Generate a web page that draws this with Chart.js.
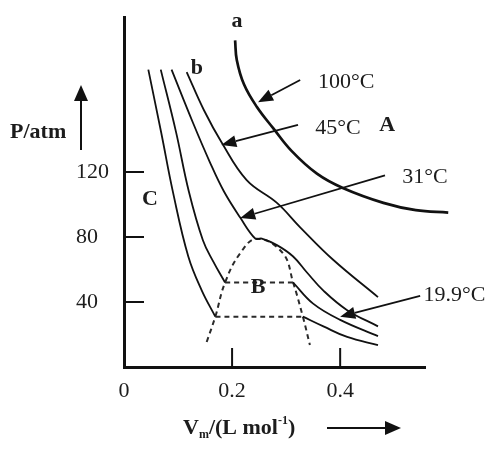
<!DOCTYPE html>
<html>
<head>
<meta charset="utf-8">
<title>CO2 isotherms</title>
<script src="https://cdn.jsdelivr.net/npm/chart.js@4/dist/chart.umd.min.js"></script>
<style>
  html, body { margin: 0; padding: 0; background: #fff; }
  #wrap { width: 490px; height: 449px; }
</style>
</head>
<body>
<div id="wrap"><canvas id="chart"></canvas></div>
<script>
// Values: molar volume (L/mol), pressure (atm)
const xTicks = [0, 0.2, 0.4];
const yTicks = [40, 80, 120];

// lowest isotherm (unlabelled): liquid branch, tie line, gas branch
const lowLiquid = [[0.045, 183], [0.069, 144], [0.091, 107], [0.119, 68], [0.144, 47], [0.169, 31]];
const lowTie = [[0.169, 31], [0.331, 31]];
const lowGas = [[0.331, 31], [0.369, 25], [0.413, 18.5], [0.470, 13.5]];

// 19.9 °C
const t199Liquid = [[0.068, 183], [0.096, 145], [0.120, 108], [0.146, 78], [0.165, 65], [0.187, 52]];
const t199Tie = [[0.187, 52], [0.313, 52]];
const t199Gas = [[0.313, 52], [0.350, 39], [0.400, 29], [0.470, 19]];

// 31 °C (critical)
const t31 = [[0.088, 183], [0.128, 150], [0.159, 126], [0.185, 108], [0.215, 92], [0.243, 79],
             [0.255, 79], [0.283, 75], [0.313, 68], [0.339, 58], [0.369, 47], [0.413, 35], [0.470, 25]];

// 45 °C
const t45 = [[0.116, 181.5], [0.148, 158], [0.181, 138], [0.227, 115], [0.283, 101], [0.326, 86],
             [0.387, 66], [0.470, 43]];

// 100 °C
const t100 = [[0.2056, 201], [0.2087, 189], [0.222, 174], [0.246, 160], [0.276, 147], [0.310, 133],
              [0.357, 119], [0.406, 110], [0.480, 101], [0.540, 96.5], [0.600, 95]];

// two-phase dome
const dome = [[0.153, 15.4], [0.169, 31], [0.187, 52], [0.215, 70], [0.246, 79], [0.294, 70],
              [0.313, 52], [0.331, 31], [0.344, 13.5]];

const ink = '#111';
const textInk = '#1c1c1c';
const serif = "'Liberation Serif', 'DejaVu Serif', serif";

const toPoints = arr => arr.map(([x, y]) => ({ x: x, y: y }));

function solid(arr, width) {
    return {
        data: toPoints(arr),
        showLine: true,
        borderColor: ink,
        borderWidth: width,
        pointRadius: 0,
        tension: 0.4,
        clip: false
    };
}

function dashed(arr) {
    const ds = solid(arr, 2);
    ds.borderDash = [5, 4];
    ds.borderColor = '#2a2a2a';
    return ds;
}

// Labels and arrows drawn on top, placed in data units
const annotations = {
    bold: [
        { text: 'a', at: [0.209, 213] },
        { text: 'b', at: [0.135, 184] },
        { text: 'A', at: [0.487, 149] },
        { text: 'B', at: [0.248, 49] },
        { text: 'C', at: [0.048, 103] }
    ],
    temps: [
        { text: '100°C', at: [0.359, 175], from: [0.326, 176.6], to: [0.248, 163] },
        { text: '45°C', at: [0.354, 147], from: [0.322, 149], to: [0.180, 136.6] },
        { text: '31°C', at: [0.515, 117], from: [0.483, 118], to: [0.215, 91.7] },
        { text: '19.9°C', at: [0.554, 44.3], from: [0.548, 43.7], to: [0.400, 31] }
    ]
};

function arrow(ctx, x1, y1, x2, y2, head, half) {
    const ang = Math.atan2(y2 - y1, x2 - x1);
    const bx = x2 - head * Math.cos(ang);
    const by = y2 - head * Math.sin(ang);
    ctx.beginPath();
    ctx.moveTo(x1, y1);
    ctx.lineTo(bx, by);
    ctx.stroke();
    ctx.beginPath();
    ctx.moveTo(x2, y2);
    ctx.lineTo(bx + half * Math.sin(ang), by - half * Math.cos(ang));
    ctx.lineTo(bx - half * Math.sin(ang), by + half * Math.cos(ang));
    ctx.closePath();
    ctx.fill();
}

const decorations = {
    id: 'decorations',
    afterDraw(chart) {
        const ctx = chart.ctx;
        const xs = chart.scales.x;
        const ys = chart.scales.y;
        const px = v => xs.getPixelForValue(v);
        const py = v => ys.getPixelForValue(v);
        ctx.save();
        ctx.strokeStyle = ink;
        ctx.fillStyle = ink;

        // inward tick marks
        ctx.lineWidth = 2;
        const x0 = px(0), y0 = py(0);
        yTicks.forEach(v => {
            ctx.beginPath();
            ctx.moveTo(x0, py(v));
            ctx.lineTo(x0 + 20, py(v));
            ctx.stroke();
        });
        xTicks.filter(v => v > 0).forEach(v => {
            ctx.beginPath();
            ctx.moveTo(px(v), y0);
            ctx.lineTo(px(v), y0 - 19);
            ctx.stroke();
        });

        // y title with arrow
        ctx.fillStyle = textInk;
        ctx.font = 'bold 22px ' + serif;
        ctx.textAlign = 'left';
        ctx.textBaseline = 'middle';
        ctx.fillText('P/atm', 10, 132);
        ctx.fillStyle = ink;
        ctx.lineWidth = 2;
        arrow(ctx, 81, 150, 81, 85, 16, 7);

        // x title: V_m/(L mol^-1) with arrow
        ctx.fillStyle = textInk;
        ctx.textBaseline = 'alphabetic';
        let cx = 183;
        const base = 434;
        const big = 'bold 22px ' + serif;
        const small = 'bold 12px ' + serif;
        const pieces = [
            { t: 'V', f: big, dy: 0 },
            { t: 'm', f: small, dy: 4 },
            { t: '/(L mol', f: big, dy: 0 },
            { t: '-1', f: small, dy: -10 },
            { t: ')', f: big, dy: 0 }
        ];
        pieces.forEach(p => {
            ctx.font = p.f;
            ctx.fillText(p.t, cx, base + p.dy);
            cx += ctx.measureText(p.t).width;
        });
        ctx.fillStyle = ink;
        arrow(ctx, 327, 428, 401, 428, 16, 7);

        // curve / region letters
        ctx.fillStyle = textInk;
        ctx.font = 'bold 22px ' + serif;
        ctx.textAlign = 'center';
        ctx.textBaseline = 'middle';
        annotations.bold.forEach(a => ctx.fillText(a.text, px(a.at[0]), py(a.at[1])));

        // temperature labels with pointer arrows
        ctx.font = '22px ' + serif;
        ctx.textAlign = 'left';
        annotations.temps.forEach(a => {
            ctx.fillStyle = textInk;
            ctx.fillText(a.text, px(a.at[0]), py(a.at[1]));
            ctx.fillStyle = ink;
            ctx.lineWidth = 1.8;
            arrow(ctx, px(a.from[0]), py(a.from[1]), px(a.to[0]), py(a.to[1]), 15, 6);
        });
        ctx.restore();
    }
};

new Chart(document.getElementById('chart'), {
    type: 'scatter',
    data: {
        datasets: [
            solid(lowLiquid, 1.8), dashed(lowTie), solid(lowGas, 1.8),
            solid(t199Liquid, 1.8), dashed(t199Tie), solid(t199Gas, 1.8),
            solid(t31, 1.8),
            solid(t45, 1.8),
            solid(t100, 2.7),
            dashed(dome)
        ]
    },
    options: {
        responsive: true,
        maintainAspectRatio: false,
        animation: false,
        layout: { padding: { left: 76, top: 17, right: 65, bottom: 0 } },
        plugins: {
            legend: { display: false },
            tooltip: { enabled: false }
        },
        scales: {
            x: {
                type: 'linear',
                min: 0,
                max: 0.557,
                afterFit: s => { s.height = 82; },
                afterBuildTicks: s => { s.ticks = xTicks.map(v => ({ value: v })); },
                grid: { display: false, drawTicks: false },
                border: { display: true, color: ink, width: 3 },
                ticks: {
                    color: textInk,
                    padding: 11,
                    maxRotation: 0,
                    font: { family: serif, size: 22 },
                    callback: v => String(v)
                }
            },
            y: {
                type: 'linear',
                min: 0,
                max: 215.4,
                afterFit: s => { s.width = 48; },
                afterBuildTicks: s => { s.ticks = yTicks.map(v => ({ value: v })); },
                grid: { display: false, drawTicks: false },
                border: { display: true, color: ink, width: 3 },
                ticks: {
                    color: textInk,
                    crossAlign: 'far',
                    font: { family: serif, size: 22 },
                    callback: v => String(v)
                }
            }
        }
    },
    plugins: [decorations]
});
</script>
</body>
</html>
